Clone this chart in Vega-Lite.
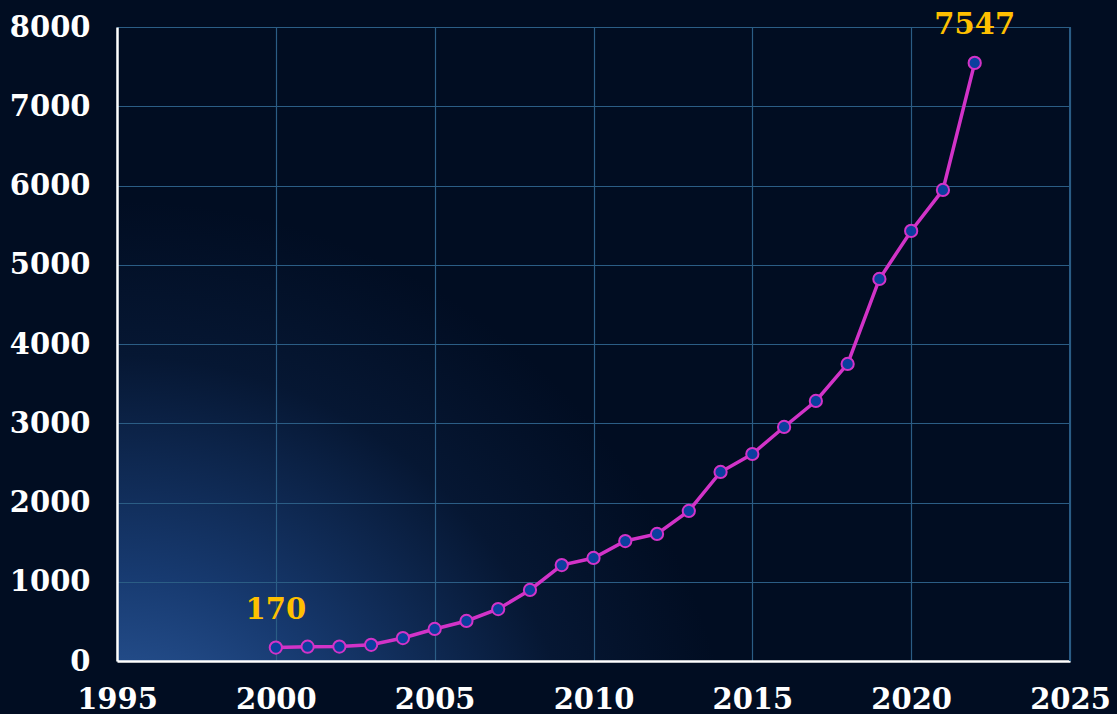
{
  "$schema": "https://vega.github.io/schema/vega-lite/v6.json",
  "width": 953,
  "height": 634,
  "autosize": "none",
  "padding": {"left": 117, "top": 27, "right": 47, "bottom": 53},
  "background": "#010d22",
  "config": {
    "view": {
      "stroke": null,
      "fill": {"gradient": "radial", "x1": 0, "y1": 1, "r1": 0, "x2": 0, "y2": 1, "r2": 0.65,
        "stops": [{"offset": 0, "color": "#3668b0"}, {"offset": 0.4, "color": "#173a70"}, {"offset": 0.75, "color": "#061733"}, {"offset": 1, "color": "#010d22"}]}
    },
    "axis": {
      "labelFont": "DejaVu Serif",
      "labelFontWeight": "bold",
      "labelFontSize": 29,
      "labelColor": "#ffffff",
      "gridColor": "#2b5d85",
      "gridWidth": 1.2,
      "gridOpacity": 1,
      "ticks": false,
      "domainColor": "#ffffff",
      "domainWidth": 2.5,
      "title": null
    }
  },
  "data": {
    "values": [
      {"year": 2000, "value": 170, "label": "170"},
      {"year": 2001, "value": 180},
      {"year": 2002, "value": 182},
      {"year": 2003, "value": 205},
      {"year": 2004, "value": 290},
      {"year": 2005, "value": 404},
      {"year": 2006, "value": 505},
      {"year": 2007, "value": 656},
      {"year": 2008, "value": 896},
      {"year": 2009, "value": 1211},
      {"year": 2010, "value": 1300},
      {"year": 2011, "value": 1514},
      {"year": 2012, "value": 1603},
      {"year": 2013, "value": 1893},
      {"year": 2014, "value": 2385},
      {"year": 2015, "value": 2612},
      {"year": 2016, "value": 2953},
      {"year": 2017, "value": 3281},
      {"year": 2018, "value": 3748},
      {"year": 2019, "value": 4821},
      {"year": 2020, "value": 5427},
      {"year": 2021, "value": 5944},
      {"year": 2022, "value": 7547, "label": "7547"}
    ]
  },
  "encoding": {
    "x": {
      "field": "year", "type": "quantitative",
      "scale": {"domain": [1995, 2025], "nice": false, "zero": false},
      "axis": {"values": [1995, 2000, 2005, 2010, 2015, 2020, 2025], "format": "d", "labelPadding": 24, "labelFlush": false, "labelOverlap": false}
    },
    "y": {
      "field": "value", "type": "quantitative",
      "scale": {"domain": [0, 8000], "nice": false},
      "axis": {"values": [0, 1000, 2000, 3000, 4000, 5000, 6000, 7000, 8000], "format": "d", "labelPadding": 27, "labelFlush": false, "labelOverlap": false}
    }
  },
  "layer": [
    {
      "mark": {"type": "rule", "color": "#2b5d85", "strokeWidth": 1.2},
      "encoding": {"x": {"datum": 2025, "type": "quantitative"}, "y": {"datum": 0, "type": "quantitative"}, "y2": {"datum": 8000}}
    },
    {
      "mark": {"type": "line", "color": "#d233c8", "strokeWidth": 3.5}
    },
    {
      "mark": {"type": "point", "filled": true, "fill": "#0b3f9e", "stroke": "#d233c8", "strokeWidth": 2, "size": 150, "opacity": 1}
    },
    {
      "transform": [{"filter": "datum.label != null"}],
      "mark": {"type": "text", "dy": -38, "font": "DejaVu Serif", "fontWeight": "bold", "fontSize": 29, "color": "#ffc000"},
      "encoding": {"text": {"field": "label"}}
    }
  ]
}
